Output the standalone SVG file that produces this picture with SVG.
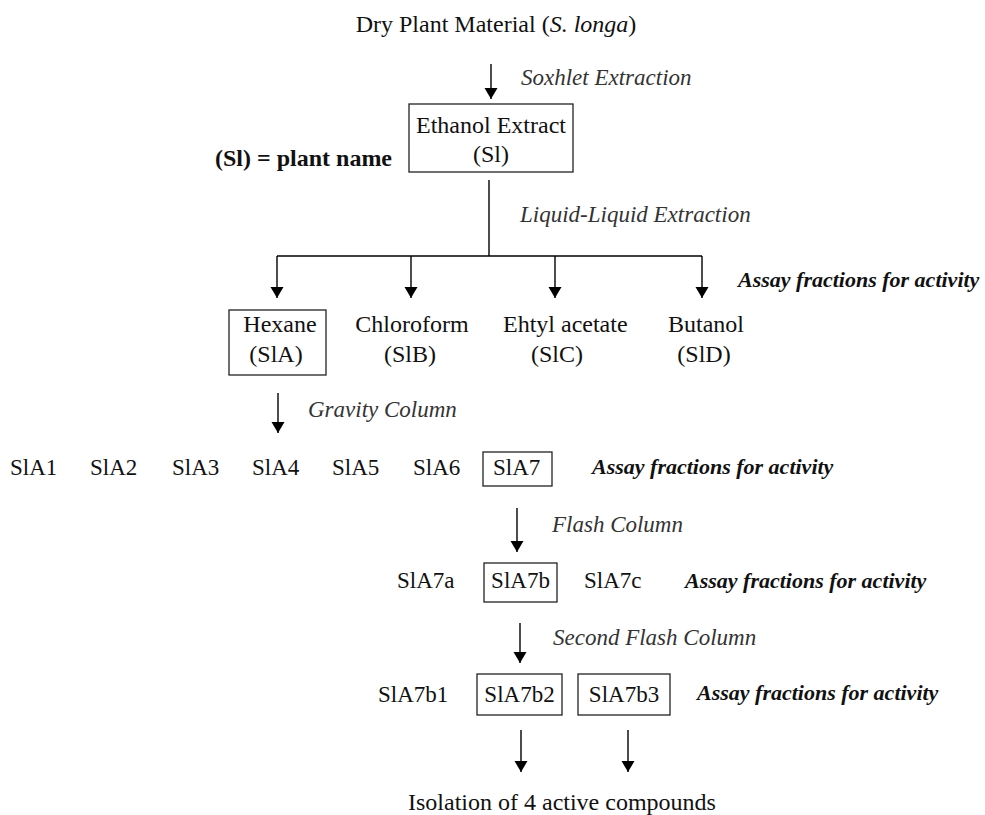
<svg xmlns="http://www.w3.org/2000/svg" width="985" height="815" viewBox="0 0 985 815">
<defs>
<marker id="ah" markerUnits="userSpaceOnUse" markerWidth="14" markerHeight="14" refX="11" refY="6.5" orient="auto">
<path d="M0,0 L11,6.5 L0,13 Z" fill="#000"/>
</marker>
</defs>
<rect width="985" height="815" fill="#fff"/>

<g id="connectors" fill="none" stroke="#000" stroke-width="1.4">
<line marker-end="url(#ah)" x1="491" y1="64" x2="491" y2="99"/>
<polyline points="489,180 489,256"/>
<line x1="277" y1="256" x2="702" y2="256"/>
<line marker-end="url(#ah)" x1="277" y1="256" x2="277" y2="298"/>
<line marker-end="url(#ah)" x1="411" y1="256" x2="411" y2="298"/>
<line marker-end="url(#ah)" x1="555" y1="256" x2="555" y2="298"/>
<line marker-end="url(#ah)" x1="702" y1="256" x2="702" y2="298"/>
<line marker-end="url(#ah)" x1="278" y1="393" x2="278" y2="433"/>
<line marker-end="url(#ah)" x1="517" y1="508" x2="517" y2="552"/>
<line marker-end="url(#ah)" x1="520" y1="623" x2="520" y2="663"/>
<line marker-end="url(#ah)" x1="521" y1="730" x2="521" y2="772"/>
<line marker-end="url(#ah)" x1="628" y1="730" x2="628" y2="772"/>
</g>

<g id="labels">
<text font-family="Liberation Serif" font-size="23" font-style="italic" fill="#333" x="521" y="85">Soxhlet Extraction</text>
<text font-family="Liberation Serif" font-size="23" font-style="italic" fill="#333" x="520" y="222">Liquid-Liquid Extraction</text>
<text font-family="Liberation Serif" font-size="23" font-style="italic" fill="#333" x="308" y="417">Gravity Column</text>
<text font-family="Liberation Serif" font-size="23" font-style="italic" fill="#333" x="552" y="532">Flash Column</text>
<text font-family="Liberation Serif" font-size="23" font-style="italic" fill="#333" x="553" y="645">Second Flash Column</text>
<text font-family="Liberation Serif" font-size="22" font-style="italic" font-weight="bold" fill="#111" x="738" y="287">Assay fractions for activity</text>
<text font-family="Liberation Serif" font-size="22" font-style="italic" font-weight="bold" fill="#111" x="592" y="474">Assay fractions for activity</text>
<text font-family="Liberation Serif" font-size="22" font-style="italic" font-weight="bold" fill="#111" x="685" y="588">Assay fractions for activity</text>
<text font-family="Liberation Serif" font-size="22" font-style="italic" font-weight="bold" fill="#111" x="697" y="700">Assay fractions for activity</text>
<text font-family="Liberation Serif" font-size="24" font-weight="bold" fill="#111" x="215" y="166">(Sl) = plant name</text>
</g>

<g id="nodes">
<g id="n-dry"><text font-family="Liberation Serif" font-size="24" fill="#111" text-anchor="middle" x="496" y="32">Dry Plant Material (<tspan font-style="italic">S. longa</tspan>)</text></g>
<g id="n-ethanol">
<rect x="409" y="104" width="164" height="68" fill="none" stroke="#222" stroke-width="1.3"/>
<text font-family="Liberation Serif" font-size="24" fill="#111" text-anchor="middle" x="491" y="133">Ethanol Extract</text>
<text font-family="Liberation Serif" font-size="24" fill="#111" text-anchor="middle" x="491" y="162">(Sl)</text>
</g>
<g id="n-hexane">
<rect x="229" y="310" width="97" height="65" fill="none" stroke="#222" stroke-width="1.3"/>
<text font-family="Liberation Serif" font-size="24" fill="#111" text-anchor="middle" x="280" y="332">Hexane</text>
<text font-family="Liberation Serif" font-size="24" fill="#111" text-anchor="middle" x="276" y="362">(SlA)</text>
</g>
<g id="n-chloroform">
<text font-family="Liberation Serif" font-size="24" fill="#111" text-anchor="middle" x="412" y="332">Chloroform</text>
<text font-family="Liberation Serif" font-size="24" fill="#111" text-anchor="middle" x="410" y="362">(SlB)</text>
</g>
<g id="n-ethyl">
<text font-family="Liberation Serif" font-size="24" fill="#111" x="503" y="332">Ehtyl acetate</text>
<text font-family="Liberation Serif" font-size="24" fill="#111" text-anchor="middle" x="557" y="362">(SlC)</text>
</g>
<g id="n-butanol">
<text font-family="Liberation Serif" font-size="24" fill="#111" text-anchor="middle" x="706" y="332">Butanol</text>
<text font-family="Liberation Serif" font-size="24" fill="#111" text-anchor="middle" x="704" y="362">(SlD)</text>
</g>

<g id="n-sla1"><text font-family="Liberation Serif" font-size="23" fill="#111" x="10" y="475">SlA1</text></g>
<g id="n-sla2"><text font-family="Liberation Serif" font-size="23" fill="#111" x="90" y="475">SlA2</text></g>
<g id="n-sla3"><text font-family="Liberation Serif" font-size="23" fill="#111" x="172" y="475">SlA3</text></g>
<g id="n-sla4"><text font-family="Liberation Serif" font-size="23" fill="#111" x="252" y="475">SlA4</text></g>
<g id="n-sla5"><text font-family="Liberation Serif" font-size="23" fill="#111" x="332" y="475">SlA5</text></g>
<g id="n-sla6"><text font-family="Liberation Serif" font-size="23" fill="#111" x="413" y="475">SlA6</text></g>
<g id="n-sla7">
<rect x="483" y="452" width="69" height="34" fill="none" stroke="#222" stroke-width="1.3"/>
<text font-family="Liberation Serif" font-size="23" fill="#111" x="493" y="475">SlA7</text>
</g>

<g id="n-sla7a"><text font-family="Liberation Serif" font-size="23" fill="#111" x="397" y="588">SlA7a</text></g>
<g id="n-sla7b">
<rect x="484" y="563" width="73" height="39" fill="none" stroke="#222" stroke-width="1.3"/>
<text font-family="Liberation Serif" font-size="23" fill="#111" text-anchor="middle" x="520.5" y="588">SlA7b</text>
</g>
<g id="n-sla7c"><text font-family="Liberation Serif" font-size="23" fill="#111" x="584" y="588">SlA7c</text></g>

<g id="n-sla7b1"><text font-family="Liberation Serif" font-size="23" fill="#111" x="378" y="702">SlA7b1</text></g>
<g id="n-sla7b2">
<rect x="477" y="674" width="85" height="41" fill="none" stroke="#222" stroke-width="1.3"/>
<text font-family="Liberation Serif" font-size="23" fill="#111" text-anchor="middle" x="519.5" y="702">SlA7b2</text>
</g>
<g id="n-sla7b3">
<rect x="578" y="674" width="92" height="41" fill="none" stroke="#222" stroke-width="1.3"/>
<text font-family="Liberation Serif" font-size="23" fill="#111" text-anchor="middle" x="624" y="702">SlA7b3</text>
</g>

<g id="n-isolation"><text font-family="Liberation Serif" font-size="24" fill="#111" x="408" y="810">Isolation of 4 active compounds</text></g>
</g>
</svg>
